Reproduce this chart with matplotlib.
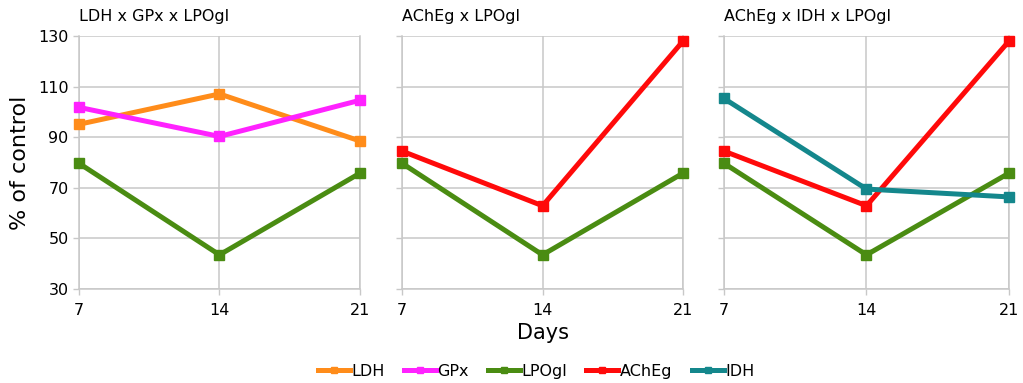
import matplotlib
matplotlib.use("Agg")
import matplotlib.pyplot as plt
from matplotlib.lines import Line2D

days = [7, 14, 21]
ldh = [95.1, 107.1, 88.5]
gpx = [101.8, 90.3, 104.6]
lpogl = [79.7, 43.5, 75.8]
acheg = [84.5, 62.9, 128.0]
idh = [105.3, 69.5, 66.4]

titles = ["LDH x GPx x LPOgl", "AChEg x LPOgl", "AChEg x IDH x LPOgl"]
yticks = [30, 50, 70, 90, 110, 130]

colors = {"LDH": "#ff8c1a", "GPx": "#ff22ff", "LPOgl": "#4a8c12",
          "AChEg": "#ff0a0a", "IDH": "#14878c"}

panels = [
    [("LDH", ldh), ("GPx", gpx), ("LPOgl", lpogl)],
    [("LPOgl", lpogl), ("AChEg", acheg)],
    [("LPOgl", lpogl), ("AChEg", acheg), ("IDH", idh)],
]

plt.rcParams['font.family'] = ['DejaVu Sans']
fig = plt.figure(figsize=(10.23, 3.83), dpi=100)

rects = [[0.0772, 0.2454, 0.2747, 0.6606],
         [0.3930, 0.2454, 0.2747, 0.6606],
         [0.7077, 0.2454, 0.2786, 0.6606]]

for i, (r, series) in enumerate(zip(rects, panels)):
    ax = fig.add_axes(r)
    for name, vals in series:
        ax.plot(days, vals, color=colors[name], lw=3.6, marker='s',
                markersize=7, clip_on=False, zorder=3)
    ax.set_xlim(7, 21)
    ax.set_ylim(30, 130)
    ax.set_xticks(days)
    ax.set_yticks(yticks)
    ax.grid(True, color='#c8c8c8', lw=1.1)
    ax.set_axisbelow(True)
    ax.spines['top'].set_visible(False)
    for s in ['left', 'right', 'bottom']:
        ax.spines[s].set_color('#c8c8c8')
        ax.spines[s].set_linewidth(1.1)
    ax.tick_params(axis='both', colors='#c8c8c8', labelcolor='black',
                   labelsize=11.5, length=4, width=1)
    ax.tick_params(axis='x', pad=6)
    if i > 0:
        ax.set_yticklabels([])
    ax.text(0.0, 1.048, titles[i], transform=ax.transAxes, fontsize=11.5,
            ha='left', va='bottom')
    if i == 0:
        ax.set_ylabel("% of control", fontsize=16, labelpad=6)
    if i == 1:
        ax.set_xlabel("Days", fontsize=15, labelpad=4)

handles = [Line2D([0], [0], color=colors[n], lw=3.6, marker='s', markersize=4)
           for n in colors]
fig.legend(handles, list(colors.keys()), loc='center', bbox_to_anchor=(0.524, 0.03),
           ncol=5, frameon=False, fontsize=11.5, handlelength=2.0,
           handletextpad=0.1, columnspacing=1.2)

fig.savefig("out.png", dpi=100)
